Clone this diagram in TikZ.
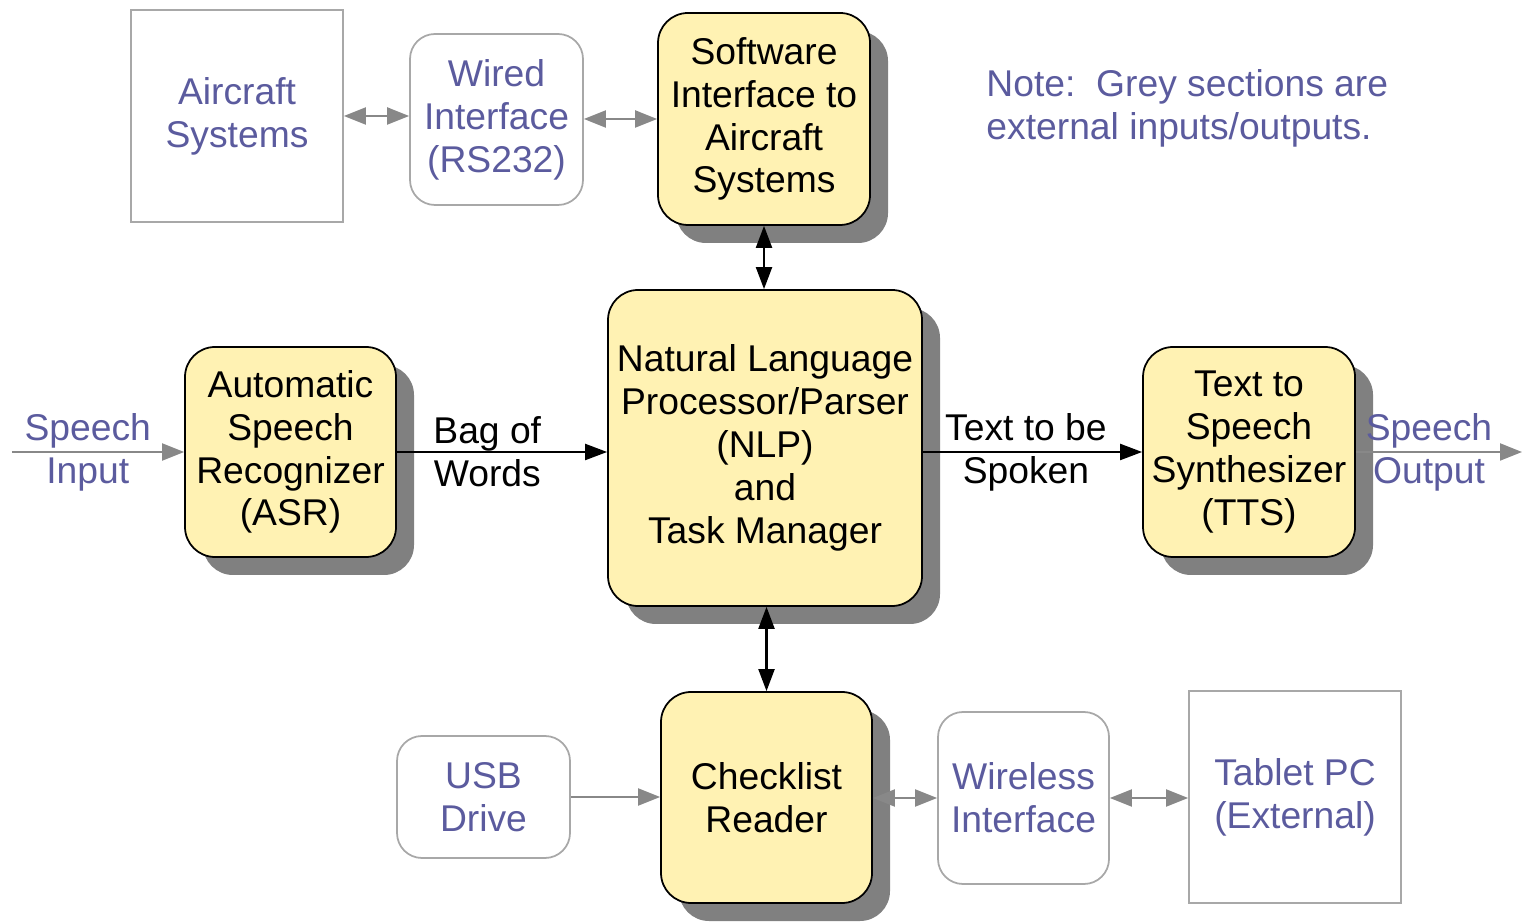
\documentclass[tikz,border=0pt]{standalone}
\usepackage{fontspec}
\setmainfont{Liberation Sans}
\usetikzlibrary{arrows.meta,shadows}
\definecolor{boxyellow}{HTML}{FFF2B3}
\definecolor{exttext}{HTML}{5B5B9E}
\definecolor{extgray}{HTML}{A8A8A8}
\definecolor{arrowgray}{HTML}{888888}
\definecolor{shadowgray}{HTML}{808080}

\begin{document}
\begin{tikzpicture}[
	font=\fontsize{10.6}{12.2}\selectfont,
	block/.style={draw=black, line width=0.5pt, fill=boxyellow, rounded corners=0.3cm, align=center, inner sep=0pt,
		drop shadow={shadow xshift=0.18cm, shadow yshift=-0.18cm, fill=shadowgray, opacity=1}},
	extbox/.style={draw=extgray, line width=0.5pt, text=exttext, align=center, inner sep=0pt},
	extround/.style={extbox, rounded corners=0.25cm},
	gtip/.tip={Triangle[length=0.22cm,width=0.17cm]},
	btip/.tip={Triangle[length=0.22cm,width=0.16cm]},
	garrow/.style={arrowgray, line width=0.6pt, -gtip},
	gboth/.style={arrowgray, line width=0.6pt, gtip-gtip},
	barrow/.style={black, line width=0.6pt, -btip},
	bboth/.style={black, line width=0.6pt, btip-btip}
	]
	\useasboundingbox (0,0) rectangle (15.22,-9.22);

	% external (grey) sections
	\node[extbox, minimum width=2.12cm, minimum height=2.12cm] (air) at (2.37,-1.16) {Aircraft\\Systems};
	\node[extround, minimum width=1.73cm, minimum height=1.71cm] (wired) at (4.965,-1.195) {Wired\\Interface\\(RS232)};
	\node[extround, minimum width=1.73cm, minimum height=1.22cm] (usb) at (4.835,-7.97) {USB\\Drive};
	\node[extround, minimum width=1.71cm, minimum height=1.72cm] (wireless) at (10.235,-7.98) {Wireless\\Interface};
	\node[extbox, minimum width=2.12cm, minimum height=2.12cm] (tablet) at (12.95,-7.97) {Tablet PC\\(External)};

	% system blocks
	\node[block, minimum width=2.12cm, minimum height=2.12cm] (soft) at (7.64,-1.19) {Software\\Interface to\\Aircraft\\Systems};
	\node[block, minimum width=3.14cm, minimum height=3.16cm] (nlp) at (7.65,-4.48) {Natural Language\\Processor/Parser\\(NLP)\\and\\Task Manager};
	\node[block, minimum width=2.11cm, minimum height=2.10cm] (asr) at (2.905,-4.52) {Automatic\\Speech\\Recognizer\\(ASR)};
	\node[block, minimum width=2.12cm, minimum height=2.10cm] (tts) at (12.49,-4.52) {Text to\\Speech\\Synthesizer\\(TTS)};
	\node[block, minimum width=2.11cm, minimum height=2.11cm] (check) at (7.665,-7.975) {Checklist\\Reader};

	\node[text=exttext, align=left, anchor=west] (note) at (9.74,-1.08) {Note:~~Grey sections are\\external inputs/outputs.};

	% free ends
	\coordinate (sin) at (0.12,-4.52);
	\coordinate (sout) at (15.22,-4.52);

	% connectors
	\draw[gboth] (air.east) -- (air.east -| wired.west);
	\draw[gboth] (wired.east |- soft.west) -- (soft.west);
	\draw[bboth] (soft.south) -- (soft.south |- nlp.north);
	\draw[bboth] (nlp.south -| check.north) -- (check.north);
	\draw[garrow] (sin) -- (asr.west) node[pos=0.44, text=exttext, align=center] (inlbl) {Speech\\Input};
	\draw[barrow] (asr.east) -- (asr.east -| nlp.west) node[pos=0.43, align=center] (bag) {Bag of\\Words};
	\draw[barrow] (nlp.east |- tts.west) -- (tts.west) node[pos=0.47, align=center] (spoken) {Text to be\\Spoken};
	\draw[garrow] (tts.east) -- (sout) node[pos=0.44, text=exttext, align=center] (outlbl) {Speech\\Output};
	\draw[garrow] (usb.east) -- (usb.east -| check.west);
	\draw[gboth] (check.east |- wireless.west) -- (wireless.west);
	\draw[gboth] (wireless.east) -- (wireless.east -| tablet.west);
\end{tikzpicture}
\end{document}
